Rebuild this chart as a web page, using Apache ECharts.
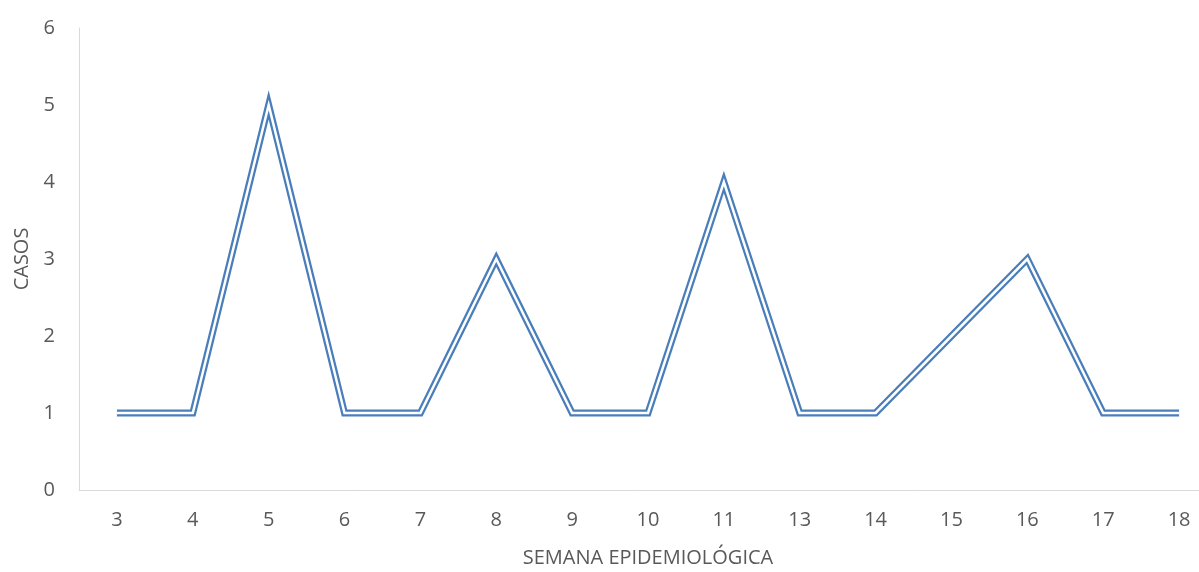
<!DOCTYPE html>
<html><head><meta charset="utf-8">
<script src="https://cdn.jsdelivr.net/npm/echarts@6/dist/echarts.min.js"></script>
<style>html,body{margin:0;padding:0;background:#fff}#c{width:1199px;height:572px}</style>
</head><body><div id="c"></div>
<script>
const semanas = ['3','4','5','6','7','8','9','10','11','13','14','15','16','17','18'];
const casos = [1,1,5,1,1,3,1,1,4,1,1,2,3,1,1];
const yTitle = 'CASOS';
const xTitle = 'SEMANA EPIDEMIOLÓGICA';

const font = '"Open Sans", "Liberation Sans", sans-serif';
const chart = echarts.init(document.getElementById('c'), null, {renderer:'canvas'});
chart.setOption({
  animation: false,
  grid: {left: 79, right: -18, top: 28, bottom: 82, containLabel: false, outerBoundsMode: 'none'},
  xAxis: {
    type: 'category', data: semanas, boundaryGap: true,
    axisLine: {lineStyle: {color: '#d9d9d9', width: 1}},
    axisTick: {show: false},
    axisLabel: {color: '#595959', fontSize: 20, fontFamily: font, margin: 20},
    name: xTitle, nameLocation: 'middle', nameGap: 58,
    nameTextStyle: {color: '#595959', fontSize: 20, fontFamily: font}
  },
  yAxis: {
    type: 'value', min: 0, max: 6, interval: 1,
    axisLine: {show: true, lineStyle: {color: '#d9d9d9', width: 1}},
    axisTick: {show: false},
    splitLine: {show: false},
    axisLabel: {color: '#595959', fontSize: 20, fontFamily: font, margin: 24},
    name: yTitle, nameLocation: 'middle', nameGap: 47, nameRotate: 90,
    nameTextStyle: {color: '#595959', fontSize: 20, fontFamily: font}
  },
  series: [
    {type: 'line', data: casos, symbol: 'none', silent: true,
     lineStyle: {color: '#4a7ebb', width: 7, join: 'miter', miterLimit: 20}},
    {type: 'line', data: casos, symbol: 'none', silent: true,
     lineStyle: {color: '#ffffff', width: 2.5, join: 'miter', miterLimit: 20}}
  ]
});
</script></body></html>
